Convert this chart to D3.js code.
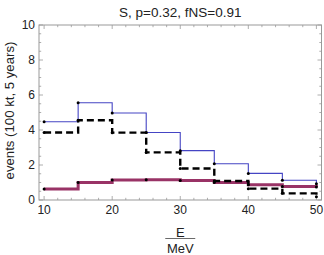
<!DOCTYPE html>
<html>
<head>
<meta charset="utf-8">
<script src="https://cdn.jsdelivr.net/npm/d3@7"></script>
<style>
  body { margin: 0; background: #fff; }
  text { font-family: "Liberation Sans", Arial, sans-serif; }
</style>
</head>
<body>
<div id="chart"></div>
<script>
const energies = [10, 15, 20, 25, 30, 35, 40, 45, 50];
const totalEvents = [4.47, 5.56, 4.97, 3.86, 2.82, 2.07, 1.52, 1.13, 0.93];
const dashedEvents = [3.86, 4.56, 3.85, 2.72, 1.8, 1.09, 0.65, 0.38, 0.19];
const lowEvents = [0.63, 1.0, 1.15, 1.16, 1.11, 1.0, 0.87, 0.77, 0.75];
const xTicks = [10, 20, 30, 40, 50];
const yTicks = [0, 2, 4, 6, 8, 10];

const width = 324, height = 255;
const margin = { left: 39, right: 2.5, top: 25, bottom: 55 };

const svg = d3.select('#chart').append('svg')
  .attr('width', width)
  .attr('height', height);

// scales chosen so that 10 -> 44 and 50 -> 316 like the picture
const x = d3.scaleLinear().domain([9.25, 50.75]).range([margin.left, width - margin.right]);
const y = d3.scaleLinear().domain([0, 10]).range([height - margin.bottom, margin.top]);

const x0 = margin.left, x1 = width - margin.right;
const y0 = height - margin.bottom, y1 = margin.top;
const frameColor = '#999';

// frame
svg.append('rect')
  .attr('x', x0).attr('y', y1)
  .attr('width', x1 - x0).attr('height', y0 - y1)
  .attr('fill', 'none').attr('stroke', frameColor).attr('stroke-width', 1);

// ticks on all four sides (Mathematica frame style)
const ticks = svg.append('g').attr('stroke', frameColor).attr('stroke-width', 0.8);
d3.range(10, 50.1, 2).forEach(v => {
  const len = v % 10 === 0 ? 4 : 2.2;
  ticks.append('line').attr('x1', x(v)).attr('x2', x(v)).attr('y1', y0).attr('y2', y0 - len);
  ticks.append('line').attr('x1', x(v)).attr('x2', x(v)).attr('y1', y1).attr('y2', y1 + len);
});
d3.range(0, 10.01, 0.5).forEach(v => {
  const len = v % 2 === 0 ? 4 : 2.2;
  ticks.append('line').attr('y1', y(v)).attr('y2', y(v)).attr('x1', x0).attr('x2', x0 + len);
  ticks.append('line').attr('y1', y(v)).attr('y2', y(v)).attr('x1', x1).attr('x2', x1 - len);
});

// tick labels
svg.append('g').selectAll('text').data(xTicks).join('text')
  .attr('x', d => x(d)).attr('y', y0 + 14)
  .attr('text-anchor', 'middle')
  .attr('font-size', 12).attr('fill', '#222')
  .text(d => d);

svg.append('g').selectAll('text').data(yTicks).join('text')
  .attr('x', x0 - 4).attr('y', d => y(d) + 4.3)
  .attr('text-anchor', 'end')
  .attr('font-size', 12).attr('fill', '#222')
  .text(d => d);

// step lines
const line = vals => d3.line()
  .x((d, i) => x(energies[i]))
  .y(d => y(d))
  .curve(d3.curveStepAfter)(vals);

svg.append('path').attr('d', line(lowEvents))
  .attr('fill', 'none').attr('stroke', '#993366').attr('stroke-width', 3);

svg.append('path').attr('d', line(totalEvents))
  .attr('fill', 'none').attr('stroke', '#4545c4').attr('stroke-width', 1.1);

svg.append('path').attr('d', line(dashedEvents))
  .attr('fill', 'none').attr('stroke', '#000').attr('stroke-width', 2.4)
  .attr('stroke-dasharray', '7,4');

// points
[totalEvents, dashedEvents, lowEvents].forEach(vals => {
  svg.append('g').selectAll('circle').data(vals).join('circle')
    .attr('cx', (d, i) => x(energies[i]))
    .attr('cy', d => y(d))
    .attr('r', 1.5)
    .attr('fill', '#000');
});

// title
svg.append('text')
  .attr('x', (x0 + x1) / 2).attr('y', 16.5)
  .attr('text-anchor', 'middle').attr('font-size', 13.5).attr('fill', '#222')
  .text('S, p=0.32, fNS=0.91');

// y label
svg.append('text')
  .attr('transform', `translate(13.5, ${(y0 + y1) / 2 - 2}) rotate(-90)`)
  .attr('text-anchor', 'middle').attr('font-size', 13.2).attr('fill', '#222')
  .text('events (100 kt, 5 years)');

// x label as fraction E / MeV
const cx = (x0 + x1) / 2;
svg.append('text')
  .attr('x', cx).attr('y', 236.5)
  .attr('text-anchor', 'middle').attr('font-size', 13).attr('fill', '#222')
  .text('E');
svg.append('line')
  .attr('x1', cx - 15).attr('x2', cx + 15)
  .attr('y1', 238.5).attr('y2', 238.5)
  .attr('stroke', '#444').attr('stroke-width', 0.8);
svg.append('text')
  .attr('x', cx).attr('y', 253)
  .attr('text-anchor', 'middle').attr('font-size', 13).attr('fill', '#222')
  .text('MeV');
</script>
</body>
</html>
